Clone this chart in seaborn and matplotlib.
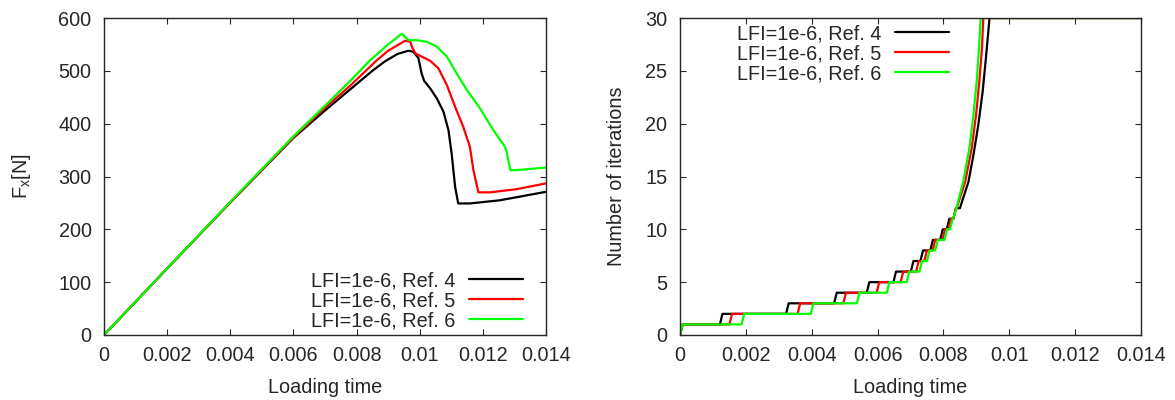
import matplotlib
matplotlib.use("Agg")
import matplotlib.pyplot as plt
import seaborn as sns
import pandas as pd
from matplotlib.ticker import FuncFormatter, MultipleLocator

# ---------------- data ----------------
labels = ["LFI=1e-6, Ref. 4", "LFI=1e-6, Ref. 5", "LFI=1e-6, Ref. 6"]
colors = ["#000000", "#ff0000", "#00ff00"]

# Left: force vs loading time
black_t = [0, 0.002, 0.004, 0.006, 0.007, 0.0078, 0.0085, 0.0089, 0.0093, 0.00964, 0.0098,
           0.00996, 0.01006, 0.01014, 0.01033, 0.01054, 0.01075, 0.01091, 0.01101, 0.01112,
           0.01122, 0.01159, 0.01254, 0.014]
black_f = [0, 126, 251, 373, 425, 465, 500, 518, 532, 538, 536,
           524, 495, 481, 467, 448, 423, 388, 344, 281,
           249, 249, 255, 271]
red_t = [0, 0.002, 0.004, 0.006, 0.007, 0.0078, 0.00864, 0.009, 0.00954, 0.0097, 0.00975,
         0.00986, 0.01006, 0.01033, 0.01059, 0.01086, 0.01112, 0.01138, 0.01159, 0.0117,
         0.01186, 0.01223, 0.01307, 0.014]
red_f = [0, 126, 251, 374, 430, 472, 520, 538, 557, 555, 546,
         533, 527, 519, 505, 473, 432, 394, 356, 312,
         270, 270, 276, 287]
green_t = [0, 0.002, 0.004, 0.006, 0.007, 0.0078, 0.00843, 0.009, 0.00943, 0.00953, 0.00964,
           0.0099, 0.01022, 0.01054, 0.01086, 0.01117, 0.01149, 0.01191, 0.01233, 0.0127,
           0.01275, 0.01287, 0.01307, 0.014]
green_f = [0, 126, 252, 376, 434, 481, 520, 550, 570, 565, 558,
           558, 555, 546, 527, 495, 464, 429, 388, 356,
           347, 312, 312, 317]

# Right: number of iterations (times where the count increases by one, then the final rise)
black_steps = [0, 0.00121, 0.00322, 0.00468, 0.00567, 0.00648, 0.00701, 0.0073, 0.0076,
               0.0079, 0.0081, 0.0083]
black_rise_t = [0.0085, 0.00876, 0.00891, 0.00906, 0.00919, 0.00929, 0.0094, 0.014]
black_rise_n = [12, 14.5, 17, 19.9, 23, 26.2, 30, 30]
red_steps = [0, 0.0015, 0.00357, 0.00496, 0.00597, 0.0067, 0.00717, 0.00742, 0.00767,
             0.00797, 0.00815, 0.0083]
red_rise_t = [0.0084, 0.00866, 0.00886, 0.00899, 0.00909, 0.00917, 0.00921, 0.014]
red_rise_n = [12, 14.5, 17.7, 20.8, 24, 27.1, 30, 30]
green_steps = [0, 0.00187, 0.00397, 0.00537, 0.00628, 0.00688, 0.00727, 0.0075, 0.00775,
               0.00803, 0.0082]
green_rise_t = [0.00835, 0.0086, 0.00879, 0.00891, 0.00901, 0.00908, 0.00913, 0.014]
green_rise_n = [11.5, 14.5, 17.7, 20.8, 24, 27.1, 30, 30]

xticks = [0, 0.002, 0.004, 0.006, 0.008, 0.01, 0.012, 0.014]


def step_series(steps, rise_t, rise_n, ramp=0.00008):
    t, n = [], []
    for k, s in enumerate(steps):
        t += [s, s + ramp]
        n += [k, k + 1]
    return t + rise_t, n + rise_n


# ---------------- style ----------------
sns.set_style("ticks")
plt.rcParams["font.family"] = ["Liberation Sans", "DejaVu Sans"]
plt.rcParams["xtick.direction"] = "in"
plt.rcParams["ytick.direction"] = "in"
plt.rcParams["xtick.top"] = True
plt.rcParams["ytick.right"] = True
plt.rcParams["xtick.major.size"] = 4
plt.rcParams["ytick.major.size"] = 4
plt.rcParams["axes.linewidth"] = 1.0

fs = 14.3
fig = plt.figure(figsize=(11.75, 4.0), dpi=100)
ax1 = fig.add_axes([104 / 1175, 1 - 335 / 400, 442 / 1175, 317 / 400])
ax2 = fig.add_axes([680 / 1175, 1 - 335 / 400, 461 / 1175, 317 / 400])

fmt = FuncFormatter(lambda v, p: "%g" % round(v, 6))

left = [(black_t, black_f), (red_t, red_f), (green_t, green_f)]
for (t, f), lab, c in zip(left, labels, colors):
    df = pd.DataFrame({"t": t, "f": f})
    sns.lineplot(data=df, x="t", y="f", ax=ax1, color=c, label=lab, lw=1.6,
                 sort=False, estimator=None)

right = [step_series(black_steps, black_rise_t, black_rise_n),
         step_series(red_steps, red_rise_t, red_rise_n),
         step_series(green_steps, green_rise_t, green_rise_n)]
for (t, n), lab, c in zip(right, labels, colors):
    df = pd.DataFrame({"t": t, "n": n})
    sns.lineplot(data=df, x="t", y="n", ax=ax2, color=c, label=lab, lw=1.6,
                 sort=False, estimator=None)

for ax in (ax1, ax2):
    ax.set_xlim(0, 0.014)
    ax.set_xticks(xticks)
    ax.xaxis.set_major_formatter(fmt)
    ax.tick_params(axis="x", labelsize=fs, pad=8)
    ax.tick_params(axis="y", labelsize=fs, pad=9)
    ax.set_xlabel("Loading time", fontsize=fs, labelpad=9)

ax1.set_ylim(0, 600)
ax1.yaxis.set_major_locator(MultipleLocator(100))
ax1.set_ylabel("F$_\\mathregular{x}$[N]", fontsize=fs, labelpad=18)

ax2.set_ylim(0, 30)
ax2.yaxis.set_major_locator(MultipleLocator(5))
ax2.set_ylabel("Number of iterations", fontsize=fs, labelpad=14)

leg_kw = dict(frameon=False, markerfirst=False, fontsize=fs, handlelength=2.7,
              handletextpad=0.7, labelspacing=0.05, borderpad=0, borderaxespad=0)
ax1.legend(loc="lower right", bbox_to_anchor=(0.948, 0.015), **leg_kw)
ax2.legend(loc="upper left", bbox_to_anchor=(0.123, 0.98), **leg_kw)

fig.savefig("out.png", dpi=100)
